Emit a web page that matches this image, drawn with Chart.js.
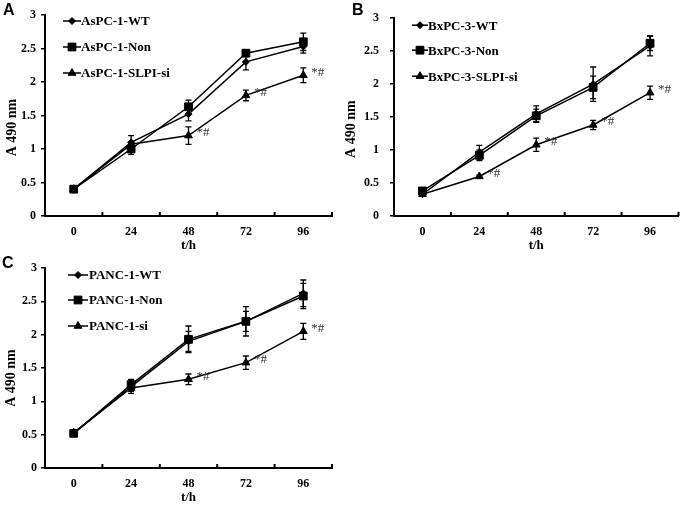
<!DOCTYPE html>
<html>
<head>
<meta charset="utf-8">
<script src="https://cdn.jsdelivr.net/npm/chart.js@4.4.1/dist/chart.umd.min.js"></script>
<style>
  body { margin: 0; background: #fff; }
  #wrap { position: relative; width: 685px; height: 505px; overflow: hidden; }
  .panel { position: absolute; }
  .tag { position: absolute; font: bold 16px "Liberation Sans", Arial, sans-serif; color: #000; }
</style>
</head>
<body>
<div id="wrap">
  <div class="panel" style="left:0;top:0;width:340px;height:250px"><canvas id="chartA"></canvas></div>
  <div class="panel" style="left:340px;top:0;width:345px;height:250px"><canvas id="chartB"></canvas></div>
  <div class="panel" style="left:0;top:250px;width:340px;height:255px"><canvas id="chartC"></canvas></div>
  <div class="tag" style="left:3px;top:1px">A</div>
  <div class="tag" style="left:352px;top:1px">B</div>
  <div class="tag" style="left:2px;top:254px">C</div>
</div>
<script>
// time points (hours)
const hours = ["0", "24", "48", "72", "96"];

// panel A - AsPC-1
const aspcWT = [0.40, 1.10, 1.52, 2.30, 2.53];
const aspcWTErr = [0.02, 0.10, 0.10, 0.12, 0.10];
const aspcNon = [0.40, 1.00, 1.63, 2.43, 2.60];
const aspcNonErr = [0.02, 0.08, 0.10, 0.03, 0.13];
const aspcSi = [0.40, 1.07, 1.20, 1.80, 2.10];
const aspcSiErr = [0.02, 0.04, 0.13, 0.08, 0.11];
const aspcStars = [2, 3, 4];

// panel B - BxPC-3
const bxpcWT = [0.33, 0.97, 1.55, 2.00, 2.58];
const bxpcWTErr = [0.03, 0.10, 0.12, 0.26, 0.15];
const bxpcNon = [0.38, 0.92, 1.52, 1.95, 2.62];
const bxpcNonErr = [0.03, 0.08, 0.10, 0.17, 0.11];
const bxpcSi = [0.33, 0.60, 1.08, 1.38, 1.87];
const bxpcSiErr = [0.02, 0.02, 0.10, 0.07, 0.10];
const bxpcStars = [1, 2, 3, 4];

// panel C - PANC-1
const pancWT = [0.52, 1.22, 1.90, 2.20, 2.62];
const pancWTErr = [0.02, 0.10, 0.15, 0.22, 0.20];
const pancNon = [0.52, 1.25, 1.93, 2.20, 2.58];
const pancNonErr = [0.02, 0.08, 0.20, 0.15, 0.19];
const pancSi = [0.53, 1.20, 1.33, 1.58, 2.05];
const pancSiErr = [0.02, 0.05, 0.08, 0.10, 0.12];
const pancStars = [2, 3, 4];

const serif = '"Liberation Serif", "Times New Roman", serif';

function marker(ctx, style, r, x, y) {
  ctx.beginPath();
  if (style === "rectRot") {
    ctx.moveTo(x, y - r); ctx.lineTo(x + r, y); ctx.lineTo(x, y + r); ctx.lineTo(x - r, y);
  } else if (style === "rect") {
    const s = r * Math.SQRT1_2;
    ctx.rect(x - s, y - s, 2 * s, 2 * s);
  } else {
    const h = r * 1.5;
    ctx.moveTo(x, y - h * 2 / 3); ctx.lineTo(x + r * 0.87, y + h / 3); ctx.lineTo(x - r * 0.87, y + h / 3);
  }
  ctx.closePath();
  ctx.fill();
  ctx.stroke();
}

// error bars, *# marks, legend, inward x ticks, y title
const extras = {
  id: "extras",
  afterDatasetsDraw(chart, args, opts) {
    const ctx = chart.ctx;
    const ys = chart.scales.y;
    const xs = chart.scales.x;
    const area = chart.chartArea;
    ctx.save();
    ctx.strokeStyle = "#000";
    ctx.fillStyle = "#000";
    ctx.lineWidth = 1.3;
    chart.data.datasets.forEach((ds, i) => {
      chart.getDatasetMeta(i).data.forEach((pt, j) => {
        const t = ys.getPixelForValue(ds.data[j] + ds.errors[j]);
        const b = ys.getPixelForValue(ds.data[j] - ds.errors[j]);
        ctx.beginPath();
        ctx.moveTo(pt.x, t); ctx.lineTo(pt.x, b);
        ctx.moveTo(pt.x - 3, t); ctx.lineTo(pt.x + 3, t);
        ctx.moveTo(pt.x - 3, b); ctx.lineTo(pt.x + 3, b);
        ctx.stroke();
      });
      if (ds.stars) {
        ctx.fillStyle = "#333";
        ctx.font = "13px " + serif;
        ctx.textBaseline = "middle";
        ctx.textAlign = "left";
        ds.stars.forEach((j) => {
          const pt = chart.getDatasetMeta(i).data[j];
          ctx.fillText("*#", pt.x + 8, pt.y - 3);
        });
        ctx.fillStyle = "#000";
      }
    });
    // x ticks pointing inward at band edges
    const n = xs.ticks.length;
    const band = (xs.right - xs.left) / n;
    ctx.lineWidth = 2;
    for (let k = 1; k <= n; k++) {
      const x = xs.left + k * band;
      ctx.beginPath();
      ctx.moveTo(x, area.bottom); ctx.lineTo(x, area.bottom - 4);
      ctx.stroke();
    }
    // legend
    ctx.font = "bold 13px " + serif;
    ctx.textBaseline = "middle";
    ctx.textAlign = "left";
    chart.data.datasets.forEach((ds, i) => {
      const y = area.top + opts.rows[i];
      const x0 = area.left + opts.lineX;
      const x1 = x0 + opts.lineLen;
      ctx.lineWidth = 1.5;
      ctx.beginPath();
      ctx.moveTo(x0, y); ctx.lineTo(x1, y);
      ctx.stroke();
      ctx.lineWidth = 1;
      marker(ctx, ds.pointStyle, ds.pointRadius, (x0 + x1) / 2, y);
      ctx.fillText(ds.label, area.left + opts.textX, y + 1);
    });
    // y axis title
    ctx.translate(opts.titleX, (area.top + area.bottom) / 2 + opts.titleShift);
    ctx.rotate(-Math.PI / 2);
    ctx.textAlign = "center";
    ctx.font = "bold 14px " + serif;
    ctx.fillText("A 490 nm", 0, 0);
    ctx.restore();
  }
};

function makePanel(id, names, values, errs, stars, cfg) {
  const styles = ["rectRot", "rect", "triangle"];
  const radii = [3.5, 5.5, 4.5];
  const datasets = names.map((name, i) => ({
    label: name,
    data: values[i],
    errors: errs[i],
    stars: i === 2 ? stars : null,
    borderColor: "#000",
    borderWidth: 1.5,
    pointStyle: styles[i],
    pointRadius: radii[i],
    pointBackgroundColor: "#000",
    pointBorderColor: "#000",
    pointBorderWidth: 1,
    tension: 0
  }));
  return new Chart(document.getElementById(id), {
    type: "line",
    data: { labels: hours, datasets: datasets },
    options: {
      responsive: true,
      maintainAspectRatio: false,
      animation: false,
      layout: { padding: { top: cfg.top, right: cfg.right, left: 0, bottom: 0 } },
      plugins: {
        legend: { display: false },
        tooltip: { enabled: false },
        extras: cfg.legend
      },
      scales: {
        x: {
          offset: true,
          grid: { display: false, drawTicks: false },
          border: { color: "#000", width: 2 },
          ticks: { color: "#000", padding: 9, font: { family: serif, size: 12, weight: "bold" } },
          title: { display: true, text: "t/h", color: "#000", padding: { top: 0, bottom: cfg.tpad }, font: { family: serif, size: 13, weight: "bold" } },
          afterFit: (s) => { s.height = cfg.xh; }
        },
        y: {
          min: 0,
          max: 3,
          grid: { drawOnChartArea: false, tickLength: 4, color: "#000", lineWidth: 1.5 },
          border: { color: "#000", width: 2 },
          ticks: {
            stepSize: 0.5,
            color: "#000",
            padding: cfg.ypad,
            font: { family: serif, size: 12, weight: "bold" },
            callback: (v) => String(v)
          },
          afterFit: (s) => { s.width = cfg.yw; }
        }
      }
    },
    plugins: [extras]
  });
}

makePanel("chartA", ["AsPC-1-WT", "AsPC-1-Non", "AsPC-1-SLPI-si"],
  [aspcWT, aspcNon, aspcSi], [aspcWTErr, aspcNonErr, aspcSiErr], aspcStars,
  { top: 15, right: 8, xh: 34, yw: 45, ypad: 5, tpad: -3,
    legend: { lineX: 18, lineLen: 18, textX: 36, rows: [6, 32, 58], titleX: 12, titleShift: 12 } });

makePanel("chartB", ["BxPC-3-WT", "BxPC-3-Non", "BxPC-3-SLPI-si"],
  [bxpcWT, bxpcNon, bxpcSi], [bxpcWTErr, bxpcNonErr, bxpcSiErr], bxpcStars,
  { top: 15, right: 2, xh: 34, yw: 54, ypad: 11, tpad: -3,
    legend: { lineX: 18, lineLen: 16, textX: 34, rows: [7, 32, 58], titleX: 11, titleShift: 12 } });

makePanel("chartC", ["PANC-1-WT", "PANC-1-Non", "PANC-1-si"],
  [pancWT, pancNon, pancSi], [pancWTErr, pancNonErr, pancSiErr], pancStars,
  { top: 18, right: 8, xh: 37, yw: 45, ypad: 4, tpad: 0,
    legend: { lineX: 23, lineLen: 20, textX: 44, rows: [7, 32, 58], titleX: 11, titleShift: 10 } });
</script>
</body>
</html>
